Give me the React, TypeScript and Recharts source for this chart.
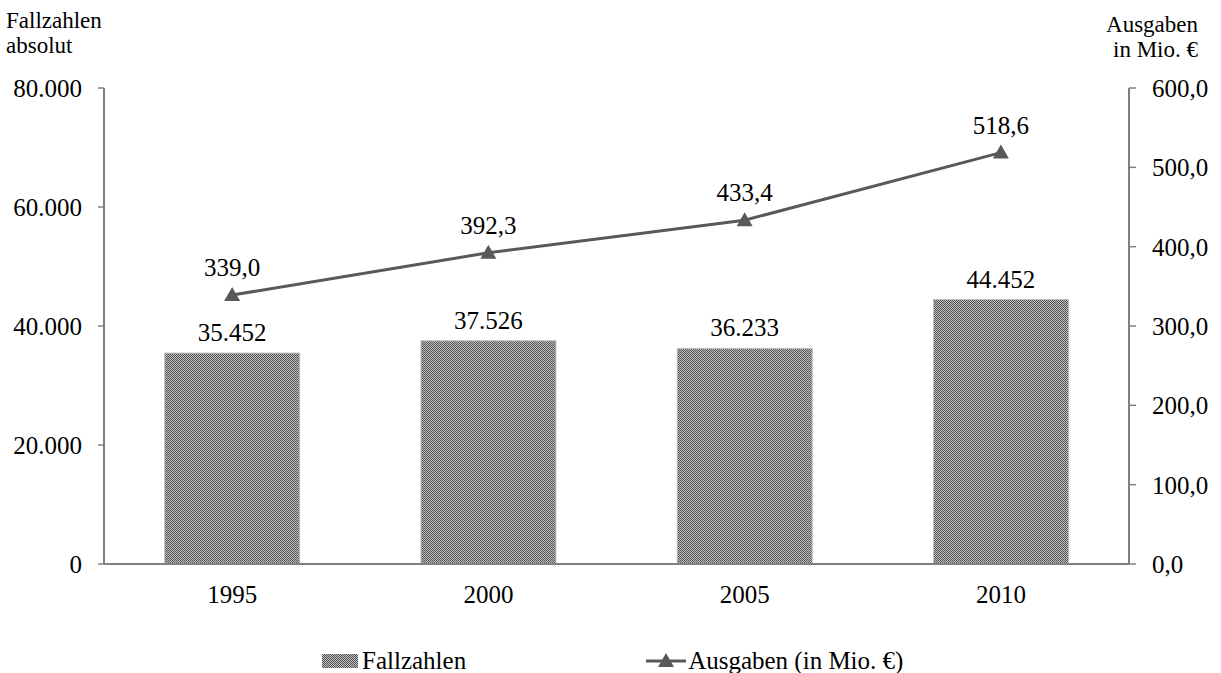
import React from 'react';
import { ComposedChart, Bar, Line, XAxis, YAxis, LabelList, Legend } from 'recharts';

const years = ['1995', '2000', '2005', '2010'];
const fallzahlen = [35452, 37526, 36233, 44452];
const ausgaben = [339.0, 392.3, 433.4, 518.6];
const leftTicks = [0, 20000, 40000, 60000, 80000];
const rightTicks = [0, 100, 200, 300, 400, 500, 600];
const boundaryTicks = [0, 1, 2, 3, 4];

const data = years.map((y, i) => ({ year: y, fall: fallzahlen[i], aus: ausgaben[i] }));

const FONT = 'Liberation Serif';
const AXIS = '#808080';
const LINE = '#595959';

const fmtInt = (v: number) => String(Math.round(v)).replace(/\B(?=(\d{3})+(?!\d))/g, '.');
const fmtDec = (v: number) => Number(v).toFixed(1).replace('.', ',');

const tickStyle = { fill: '#000', fontSize: 25, fontFamily: FONT };

const Triangle = (props: any) => {
  const { cx, cy } = props;
  if (cx == null || cy == null) return null;
  return <path d={`M${cx},${cy - 8} L${cx + 8},${cy + 6} L${cx - 8},${cy + 6} Z`} fill={LINE} />;
};

const CheckerDefs = ({ id }: { id: string }) => (
  <defs>
    <pattern id={id} width="2" height="2" patternUnits="userSpaceOnUse">
      <rect width="2" height="2" fill="#c0c0c0" />
      <rect width="1" height="1" fill="#535353" />
      <rect x="1" y="1" width="1" height="1" fill="#535353" />
    </pattern>
  </defs>
);

const renderLegend = () => (
  <div style={{ display: 'flex', alignItems: 'center', height: 28, fontFamily: FONT, fontSize: 25, color: '#000', whiteSpace: 'nowrap' }}>
    <svg width={36} height={14}>
      <CheckerDefs id="checkerLegend" />
      <rect width={36} height={14} fill="url(#checkerLegend)" />
    </svg>
    <span style={{ marginLeft: 4, fontFamily: FONT }}>Fallzahlen</span>
    <svg width={40} height={20} style={{ marginLeft: 180 }}>
      <line x1={0} y1={10} x2={40} y2={10} stroke={LINE} strokeWidth={3} />
      <path d="M20,2 L28,16 L12,16 Z" fill={LINE} />
    </svg>
    <span style={{ marginLeft: 2, fontFamily: FONT }}>Ausgaben (in Mio. €)</span>
  </div>
);

export default function App() {
  return (
    <div style={{ position: 'absolute', left: 0, top: 0, width: 1221, height: 673, fontFamily: FONT, background: '#fff' }}>
      <div style={{ position: 'absolute', left: 6, top: 8, fontFamily: FONT, fontSize: 23, lineHeight: '25px', color: '#000' }}>
        Fallzahlen<br />absolut
      </div>
      <div style={{ position: 'absolute', right: 23, top: 12, fontFamily: FONT, fontSize: 23, lineHeight: '25px', color: '#000', textAlign: 'right' }}>
        Ausgaben<br />in Mio. €
      </div>
      <ComposedChart
        width={1221}
        height={673}
        data={data}
        margin={{ top: 88, right: 0, bottom: 0, left: 0 }}
        barCategoryGap="23.7%"
        style={{ fontFamily: FONT }}
      >
        <CheckerDefs id="checker" />
        <XAxis
          xAxisId="ticks"
          type="number"
          domain={[0, 4]}
          ticks={boundaryTicks}
          allowDataOverflow
          height={0}
          tick={false}
          axisLine={false}
          tickLine={{ stroke: AXIS, strokeWidth: 1.5 }}
          tickSize={6}
        />
        <XAxis
          xAxisId="cat"
          dataKey="year"
          height={81}
          axisLine={{ stroke: AXIS, strokeWidth: 2 }}
          tickLine={false}
          tickSize={6}
          tickMargin={15}
          tick={tickStyle}
        />
        <YAxis
          yAxisId="left"
          orientation="left"
          width={104}
          domain={[0, 80000]}
          ticks={leftTicks}
          tickFormatter={fmtInt}
          axisLine={{ stroke: AXIS, strokeWidth: 2 }}
          tickLine={{ stroke: AXIS, strokeWidth: 1.5 }}
          tickSize={6}
          tickMargin={16}
          tick={tickStyle}
        />
        <YAxis
          yAxisId="right"
          orientation="right"
          width={92}
          domain={[0, 600]}
          ticks={rightTicks}
          tickFormatter={fmtDec}
          axisLine={{ stroke: AXIS, strokeWidth: 2 }}
          tickLine={{ stroke: AXIS, strokeWidth: 1.5 }}
          tickSize={7}
          tickMargin={16}
          tick={tickStyle}
        />
        <Legend
          verticalAlign="bottom"
          content={renderLegend}
          wrapperStyle={{ position: 'absolute', left: 322, top: 647, width: 'auto', height: 28 }}
        />
        <Bar
          xAxisId="cat"
          yAxisId="left"
          dataKey="fall"
          fill="url(#checker)"
          stroke="#bdbdbd"
          strokeWidth={1}
          isAnimationActive={false}
        >
          <LabelList dataKey="fall" position="top" offset={12} formatter={(v: any) => fmtInt(v)} fill="#000" fontSize={25} fontFamily={FONT} />
        </Bar>
        <Line
          xAxisId="cat"
          yAxisId="right"
          dataKey="aus"
          stroke={LINE}
          strokeWidth={3}
          dot={<Triangle />}
          activeDot={false}
          isAnimationActive={false}
        >
          <LabelList dataKey="aus" position="top" offset={19} formatter={(v: any) => fmtDec(v)} fill="#000" fontSize={25} fontFamily={FONT} />
        </Line>
      </ComposedChart>
    </div>
  );
}
